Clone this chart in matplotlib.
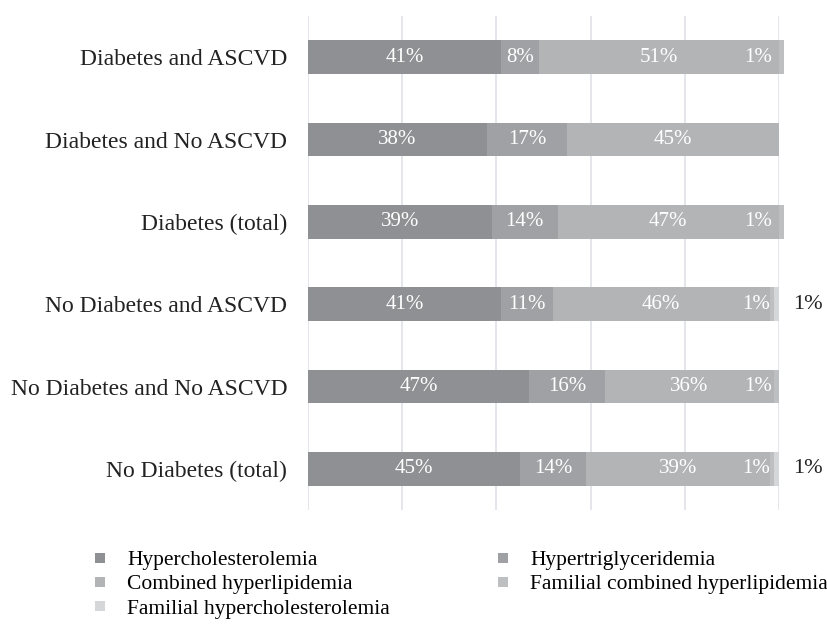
import matplotlib.pyplot as plt
import numpy as np
from matplotlib.lines import Line2D

plt.rcParams['font.family'] = ['Liberation Serif', 'DejaVu Serif']

groups = ['No Diabetes (total)', 'No Diabetes and No ASCVD', 'No Diabetes and ASCVD',
          'Diabetes (total)', 'Diabetes and No ASCVD', 'Diabetes and ASCVD']
series = ['Hypercholesterolemia', 'Hypertriglyceridemia', 'Combined hyperlipidemia',
          'Familial combined hyperlipidemia', 'Familial hypercholesterolemia']

hyperchol = [45, 47, 41, 39, 38, 41]
hypertrig = [14, 16, 11, 14, 17, 8]
combined = [39, 36, 46, 47, 45, 51]
fam_combined = [1, 1, 1, 1, 0, 1]
fam_hyperchol = [1, 0, 1, 0, 0, 0]

colors = ['#8f9093', '#a0a1a4', '#b3b4b6', '#bebfc1', '#d5d6d8']
data = [hyperchol, hypertrig, combined, fam_combined, fam_hyperchol]

fig = plt.figure(figsize=(8.28, 6.26), dpi=100)
ax = fig.add_axes([308/828, 1-510/626, 471/828, 494/626])

y = np.arange(len(groups))
left = np.zeros(len(groups))
for k, (vals, col) in enumerate(zip(data, colors)):
    vals = np.array(vals, dtype=float)
    ax.barh(y, vals, left=left, height=0.41, color=col, clip_on=False, zorder=2)
    for i in range(len(groups)):
        v = vals[i]
        if v == 0:
            continue
        if k == 4:
            # tiny last segment: label sits outside the bar
            ax.text(left[i] + v + 3, y[i], '%d%%' % v, ha='left', va='center',
                    color='#222222', fontsize=16, clip_on=False)
        elif v < 3:
            ax.text(min(left[i] + v, 99.5) - 1, y[i], '%d%%' % v, ha='right',
                    va='center', color='white', fontsize=15, zorder=3)
        else:
            ax.text(left[i] + v / 2, y[i], '%d%%' % v, ha='center', va='center',
                    color='white', fontsize=15, zorder=3)
    left += vals

ax.set_xlim(0, 100)
ax.set_ylim(-0.5, 5.5)
ax.set_xticks(range(0, 101, 20))
ax.set_xticklabels([])
ax.set_yticks(y)
ax.set_yticklabels(groups, fontsize=17, color='#222222')
ax.tick_params(length=0, axis='both')
ax.tick_params(axis='y', pad=15)
ax.grid(axis='x', color='#dfe2e8', lw=1.2, zorder=0)
for s in ax.spines.values():
    s.set_visible(False)

handles = [Line2D([], [], ls='none', marker='s', markersize=7.5, color=c, markeredgewidth=0)
           for c in colors]
order = [0, 2, 4, 1, 3]
fig.legend([handles[i] for i in order], [series[i] for i in order], ncol=2,
           loc='upper left', bbox_to_anchor=(89/828, 1-550/626), frameon=False,
           fontsize=15.5, handlelength=1.0, handletextpad=0.77, labelspacing=0.2,
           columnspacing=4.75, borderpad=0, borderaxespad=0)

fig.savefig('out.png', dpi=100)
